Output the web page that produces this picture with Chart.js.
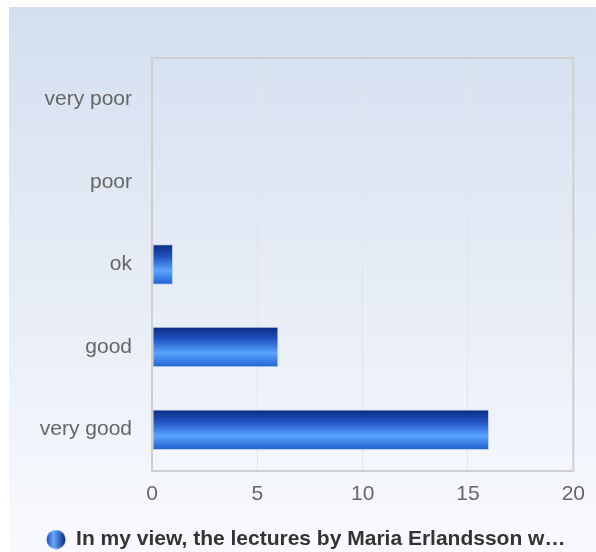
<!DOCTYPE html>
<html>
<head>
<meta charset="utf-8">
<script src="https://cdn.jsdelivr.net/npm/chart.js@4"></script>
<style>
  html, body { margin: 0; padding: 0; background: #fff; }
  #wrap { width: 596px; height: 552px; }
</style>
</head>
<body>
<div id="wrap"><canvas id="ratingChart" width="596" height="552"></canvas></div>
<script>
// data
const categories = ['very good', 'good', 'ok', 'poor', 'very poor'];
const counts = [16, 6, 1, 0, 0];
const seriesLabel = 'In my view, the lectures by Maria Erlandsson w\u2026';
const xTicks = [0, 5, 10, 15, 20];

const FONT = "'Liberation Sans', Arial, sans-serif";

// panel background: white margin, then blue-to-white gradient
const panelBg = {
  id: 'panelBg',
  beforeDraw(chart) {
    const ctx = chart.ctx;
    ctx.save();
    ctx.fillStyle = '#ffffff';
    ctx.fillRect(0, 0, chart.width, chart.height);
    const g = ctx.createLinearGradient(0, 7, 0, chart.height);
    g.addColorStop(0, '#d3dfef');
    g.addColorStop(1, '#f9fafd');
    ctx.fillStyle = g;
    ctx.fillRect(9, 7, chart.width - 9, chart.height - 7);
    ctx.restore();
  },
  afterDraw(chart) {
    const a = chart.chartArea, ctx = chart.ctx;
    ctx.save();
    ctx.strokeStyle = '#cfcfcf';
    ctx.lineWidth = 2;
    ctx.strokeRect(a.left, a.top, a.right - a.left, a.bottom - a.top);
    ctx.restore();
  }
};

function barGradient(context) {
  const chart = context.chart;
  const y = chart.scales.y;
  if (!chart.chartArea || !y) return '#2a6ad8';
  const step = (y.bottom - y.top) / categories.length;
  const half = step * 0.49 / 2;
  const c = y.getPixelForValue(context.dataIndex);
  const g = chart.ctx.createLinearGradient(0, c - half, 0, c + half);
  g.addColorStop(0, '#0a2a82');
  g.addColorStop(0.3, '#2052c0');
  g.addColorStop(0.65, '#5aa4ff');
  g.addColorStop(1, '#1f5ed0');
  return g;
}

// legend marker: small ball with a horizontal blue gradient
const marker = document.createElement('canvas');
marker.width = 20; marker.height = 20;
(function () {
  const m = marker.getContext('2d');
  const g = m.createLinearGradient(1, 0, 19, 0);
  g.addColorStop(0, '#1d4fc0');
  g.addColorStop(0.35, '#6aaaf8');
  g.addColorStop(1, '#0b2d8a');
  m.fillStyle = g;
  m.beginPath();
  m.arc(10, 10, 9.5, 0, Math.PI * 2);
  m.fill();
})();

new Chart(document.getElementById('ratingChart'), {
  type: 'bar',
  data: {
    labels: categories,
    datasets: [{
      label: seriesLabel,
      data: counts,
      backgroundColor: barGradient,
      borderColor: 'rgba(190,205,235,0.9)',
      borderWidth: 1,
      borderSkipped: false,
      barPercentage: 0.98,
      categoryPercentage: 0.5
    }]
  },
  options: {
    indexAxis: 'y',
    responsive: false,
    animation: false,
    layout: { padding: { top: 58, right: 20, left: 36, bottom: -8 } },
    scales: {
      x: {
        min: 0,
        max: 20,
        afterBuildTicks: (s) => { s.ticks = xTicks.map(v => ({ value: v })); },
        grid: { color: '#e2e4e8', drawTicks: false },
        border: { display: false },
        ticks: { color: '#666', font: { family: FONT, size: 21 }, padding: 11 },
        afterFit: (s) => { s.height = 58; }
      },
      y: {
        reverse: true,
        grid: { display: false },
        border: { display: false },
        ticks: { color: '#666', font: { family: FONT, size: 21 }, padding: 12 },
        afterFit: (s) => { s.width = 116; }
      }
    },
    plugins: {
      tooltip: { enabled: false },
      legend: {
        position: 'bottom',
        labels: {
          usePointStyle: true,
          boxWidth: 19,
          color: '#333',
          font: { family: FONT, size: 21, weight: 'bold' },
          padding: 0,
          generateLabels: (chart) => chart.data.datasets.map((d, i) => ({
            text: d.label,
            pointStyle: marker,
            fontColor: '#333',
            datasetIndex: i,
            hidden: false,
            lineWidth: 0
          }))
        }
      }
    }
  },
  plugins: [panelBg]
});
</script>
</body>
</html>
